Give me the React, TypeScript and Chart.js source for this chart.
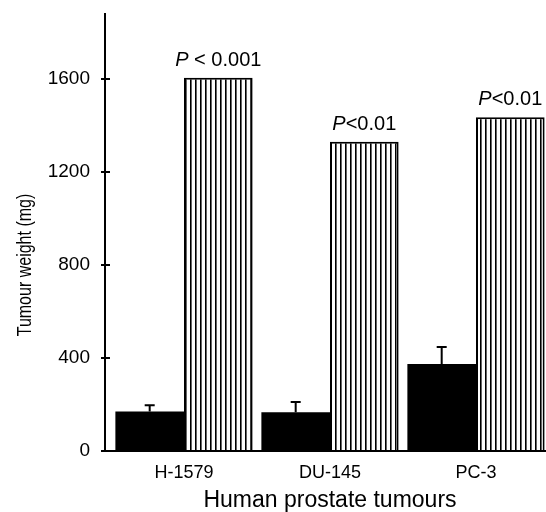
import React, { useEffect, useRef } from 'react';
import { Chart, registerables } from 'chart.js';

Chart.register(...registerables);

const categories = ['H-1579', 'DU-145', 'PC-3'];
const controlValues = [170, 167, 374];
const controlErrors = [27, 44, 73];
const treatedValues = [1605, 1330, 1436];
const pLabels = ['P < 0.001', 'P<0.01', 'P<0.01'];
const yTickValues = [0, 400, 800, 1200, 1600];
const yMax = 1884;
const xTitle = 'Human prostate tumours';
const yTitle = 'Tumour weight (mg)';

const FONT = '"Liberation Sans", Arial, Helvetica, sans-serif';

function makeStripePattern(): CanvasPattern | string {
  const c = document.createElement('canvas');
  c.width = 5;
  c.height = 4;
  const g = c.getContext('2d');
  if (!g) return '#fff';
  g.fillStyle = '#fff';
  g.fillRect(0, 0, 5, 4);
  g.fillStyle = '#000';
  g.fillRect(0, 0, 1, 4);
  g.fillStyle = '#666';
  g.fillRect(1, 0, 1, 4);
  const p = g.createPattern(c, 'repeat');
  return p || '#fff';
}

const decorPlugin = {
  id: 'decor',
  afterDatasetsDraw(chart: any) {
    const ctx: CanvasRenderingContext2D = chart.ctx;
    const { left, right, top, bottom } = chart.chartArea;
    const y = chart.scales.y;
    const axisX = left - 6;
    ctx.save();
    ctx.strokeStyle = '#000';
    ctx.fillStyle = '#000';
    ctx.lineWidth = 2;
    // axes
    ctx.beginPath();
    ctx.moveTo(axisX, top);
    ctx.lineTo(axisX, bottom + 1);
    ctx.stroke();
    ctx.beginPath();
    ctx.moveTo(axisX - 3, bottom);
    ctx.lineTo(right, bottom);
    ctx.stroke();
    // crossing tick marks
    y.ticks.forEach((t: any) => {
      const py = y.getPixelForValue(t.value);
      ctx.beginPath();
      ctx.moveTo(axisX - 4, py);
      ctx.lineTo(axisX + 5, py);
      ctx.stroke();
    });
    // error bars (upper only)
    const meta0 = chart.getDatasetMeta(0);
    meta0.data.forEach((bar: any, i: number) => {
      const yTop = y.getPixelForValue(controlValues[i] + controlErrors[i]);
      ctx.beginPath();
      ctx.moveTo(bar.x, bar.y);
      ctx.lineTo(bar.x, yTop);
      ctx.moveTo(bar.x - 5, yTop);
      ctx.lineTo(bar.x + 5, yTop);
      ctx.stroke();
    });
    // significance labels
    const meta1 = chart.getDatasetMeta(1);
    meta1.data.forEach((bar: any, i: number) => {
      const label = pLabels[i];
      const first = label.charAt(0);
      const rest = label.slice(1);
      ctx.font = `italic 20px ${FONT}`;
      const w1 = ctx.measureText(first).width;
      ctx.font = `20px ${FONT}`;
      const w2 = ctx.measureText(rest).width;
      const x0 = bar.x - (w1 + w2) / 2;
      const by = bar.y - 12;
      ctx.textBaseline = 'alphabetic';
      ctx.textAlign = 'left';
      ctx.font = `italic 20px ${FONT}`;
      ctx.fillText(first, x0, by);
      ctx.font = `20px ${FONT}`;
      ctx.fillText(rest, x0 + w1, by);
    });
    // y title
    const yc = (y.getPixelForValue(0) + y.getPixelForValue(1600)) / 2;
    ctx.translate(25, yc);
    ctx.rotate(-Math.PI / 2);
    ctx.scale(0.8, 1);
    ctx.font = `20px ${FONT}`;
    ctx.textAlign = 'center';
    ctx.textBaseline = 'middle';
    ctx.fillText(yTitle, 0, 0);
    ctx.restore();
  },
};

export default function App() {
  const ref = useRef<HTMLCanvasElement | null>(null);

  useEffect(() => {
    if (!ref.current) return;
    const pattern = makeStripePattern();
    const chart = new Chart(ref.current, {
      type: 'bar',
      data: {
        labels: categories,
        datasets: [
          {
            label: 'Control',
            data: controlValues,
            backgroundColor: '#000',
            borderWidth: 0,
          },
          {
            label: 'Treated',
            data: treatedValues,
            backgroundColor: pattern as any,
            borderColor: '#000',
            borderWidth: 2,
            borderSkipped: 'bottom',
          },
        ],
      },
      options: {
        animation: false,
        responsive: false,
        devicePixelRatio: 1,
        layout: { padding: { top: 13, right: 11, left: 0, bottom: 0 } },
        datasets: { bar: { barPercentage: 1, categoryPercentage: 0.94 } },
        plugins: { legend: { display: false }, tooltip: { enabled: false } },
        scales: {
          x: {
            type: 'category',
            offset: true,
            grid: { display: false, drawTicks: false, tickLength: 0 },
            border: { display: false },
            ticks: { color: '#000', font: { family: FONT, size: 18 }, padding: 11 },
            title: {
              display: true,
              text: xTitle,
              color: '#000',
              font: { family: FONT, size: 23, lineHeight: 1 },
              padding: { top: 0, bottom: 0 },
            },
            afterFit: (s: any) => {
              s.height = 61;
            },
          },
          y: {
            type: 'linear',
            min: 0,
            max: yMax,
            grid: { display: false, drawTicks: false, tickLength: 0 },
            border: { display: false },
            ticks: {
              stepSize: 400,
              color: '#000',
              font: { family: FONT, size: 19 },
              padding: 21,
              callback: (v: any) => String(v),
            },
            afterBuildTicks: (s: any) => {
              s.ticks = yTickValues.map((v) => ({ value: v }));
            },
            afterFit: (s: any) => {
              s.width = 111;
              s.paddingTop = 0;
              s.paddingBottom = 0;
            },
          },
        },
      },
      plugins: [decorPlugin],
    });
    return () => chart.destroy();
  }, []);

  return (
    <div style={{ position: 'fixed', left: 0, top: 0, width: 560, height: 512, background: '#fff' }}>
      <canvas ref={ref} width={560} height={512} style={{ display: 'block' }} />
    </div>
  );
}
